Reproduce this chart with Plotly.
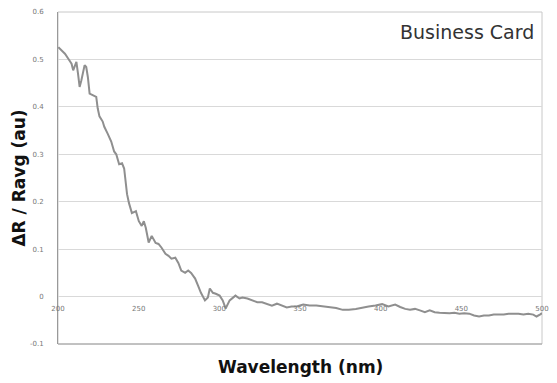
import plotly.graph_objects as go

wavelength = [200.2, 202.3, 204.3, 206.3, 208.4, 209.4, 211.4, 212.4, 213.4, 214.5,
              216.5, 217.5, 218.5, 219.6, 221.6, 223.7, 224.6, 225.7, 227.7, 228.7,
              230.7, 231.8, 233.0, 234.8, 236.1, 237.9, 239.7, 241.0, 242.2, 242.8,
              244.0, 245.8, 248.3, 250.1, 251.9, 253.2, 254.4, 256.2, 258.1, 260.5,
              262.3, 264.2, 266.6, 268.5, 270.3, 272.7, 274.6, 276.4, 278.8, 280.7,
              282.5, 285.0, 286.8, 288.6, 291.1, 292.9, 294.1, 296.0, 297.8, 300.2,
              302.1, 303.9, 306.4, 308.2, 310.0, 312.5, 314.3, 317.4, 320.4, 323.5,
              326.5, 329.6, 332.6, 335.7, 338.7, 341.8, 344.8, 347.9, 352.0, 355.9,
              360.1, 364.2, 368.1, 372.4, 376.5, 380.3, 384.6, 388.7, 392.5, 396.8,
              400.9, 404.8, 409.0, 412.1, 415.2, 418.2, 421.3, 424.3, 427.4, 430.4,
              433.5, 436.5, 439.6, 442.7, 445.7, 448.8, 451.8, 454.9, 457.9, 461.0,
              464.0, 467.1, 470.1, 473.2, 476.3, 479.3, 482.4, 485.4, 488.5, 491.5,
              494.6, 496.6, 498.7, 500.0]
delta_r = [0.526, 0.519, 0.512, 0.502, 0.491, 0.477, 0.495, 0.470, 0.442, 0.456,
           0.488, 0.484, 0.463, 0.428, 0.425, 0.421, 0.397, 0.380, 0.369, 0.358,
           0.344, 0.337, 0.327, 0.306, 0.300, 0.279, 0.281, 0.270, 0.237, 0.216,
           0.197, 0.176, 0.180, 0.159, 0.149, 0.159, 0.145, 0.114, 0.128, 0.113,
           0.111, 0.103, 0.090, 0.086, 0.080, 0.082, 0.071, 0.055, 0.050, 0.055,
           0.050, 0.038, 0.023, 0.008, -0.008, -0.002, 0.017, 0.008, 0.006, 0.002,
           -0.008, -0.025, -0.008, -0.002, 0.002, -0.004, -0.002, -0.004, -0.008, -0.012,
           -0.012, -0.015, -0.019, -0.015, -0.019, -0.023, -0.021, -0.021, -0.017, -0.019,
           -0.019, -0.021, -0.023, -0.024, -0.028, -0.028, -0.026, -0.023, -0.021, -0.019,
           -0.016, -0.021, -0.017, -0.022, -0.026, -0.028, -0.026, -0.029, -0.033, -0.029,
           -0.033, -0.034, -0.035, -0.035, -0.034, -0.036, -0.035, -0.036, -0.040, -0.042,
           -0.040, -0.040, -0.038, -0.038, -0.038, -0.036, -0.036, -0.036, -0.038, -0.036,
           -0.038, -0.042, -0.038, -0.035]

x_ticks = [200, 250, 300, 350, 400, 450, 500]
y_ticks = [-0.1, 0, 0.1, 0.2, 0.3, 0.4, 0.5, 0.6]
y_tick_text = ["-0.1", "0", "0.1", "0.2", "0.3", "0.4", "0.5", "0.6"]
x_range = [200, 500]
y_range = [-0.1, 0.6]

fig = go.Figure()
fig.add_trace(go.Scatter(x=wavelength, y=delta_r, mode="lines",
                         line=dict(color="#8f8f8f", width=2), hoverinfo="skip"))

tick_font = dict(family="DejaVu Sans", size=7, color="#777777")
fig.update_layout(
    width=557, height=383,
    margin=dict(l=58, r=8, t=10, b=39),
    paper_bgcolor="white", plot_bgcolor="white",
    showlegend=False,
    xaxis=dict(range=x_range, tickvals=x_ticks, ticks="", showgrid=False,
               zeroline=False, showline=False, anchor="free",
               position=(0 - y_range[0]) / (y_range[1] - y_range[0]),
               tickfont=tick_font, ticklabelstandoff=6),
    yaxis=dict(range=y_range, tickvals=y_ticks, ticktext=y_tick_text, ticks="",
               showgrid=True, gridcolor="#d9d9d9", gridwidth=1,
               zeroline=False, showline=True, linecolor="#999999", linewidth=1,
               tickfont=tick_font, ticklabelstandoff=12),
    shapes=[dict(type="rect", xref="paper", yref="paper", x0=0, x1=1, y0=0, y1=1,
                 line=dict(color="#c8c8c8", width=1), layer="below"),
            dict(type="line", xref="paper", yref="paper", x0=0, x1=1, y0=0, y1=0,
                 line=dict(color="#a0a0a0", width=1))],
    annotations=[
        dict(text="Business Card", xref="paper", yref="paper", x=0.988, y=0.94,
             xanchor="right", yanchor="middle", showarrow=False,
             font=dict(family="DejaVu Sans", size=19, color="#333333")),
        dict(text="<b>Wavelength (nm)</b>", xref="paper", yref="paper", x=0.5, y=-0.069,
             xanchor="center", yanchor="middle", showarrow=False,
             font=dict(family="DejaVu Sans", size=17, color="#111111")),
        dict(text="<b>ΔR / Ravg (au)</b>", xref="paper", yref="paper", x=-0.0815, y=0.5,
             xanchor="center", yanchor="middle", textangle=-90, showarrow=False,
             font=dict(family="DejaVu Sans", size=17, color="#111111")),
    ],
)

fig.write_html("out.html", config={"displayModeBar": False},
               post_script="document.body.style.margin='0';")
